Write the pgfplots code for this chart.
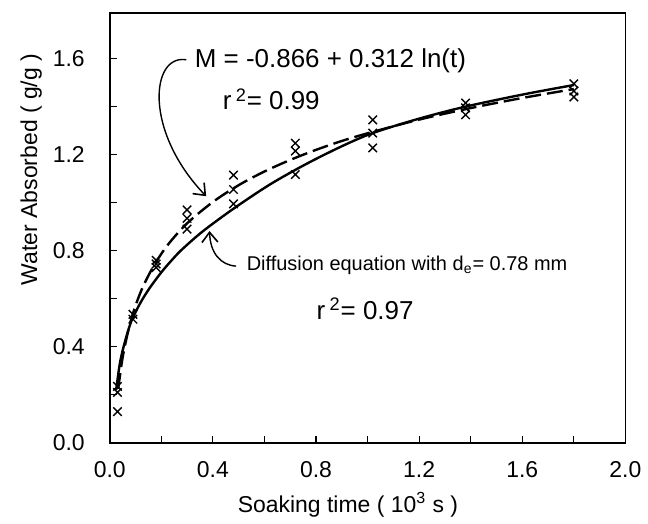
\documentclass[border=0pt]{standalone}
\usepackage{fontspec}
\setmainfont{Liberation Sans}
\usepackage{pgfplots}
\pgfplotsset{compat=1.18}
\usetikzlibrary{arrows.meta}
\begin{document}
\begin{tikzpicture}
\begin{axis}[
  scale only axis, width=258.5pt, height=215.5pt,
  xmin=0, xmax=2, ymin=0, ymax=1.79,
  axis line style={line width=0.8pt},
  xtick={0,0.4,0.8,1.2,1.6,2.0}, ytick={0,0.4,0.8,1.2,1.6},
  minor xtick={0.2,0.6,1.0,1.4,1.8}, minor ytick={0.2,0.6,1.0,1.4},
  tick align=inside, xtick pos=bottom, ytick pos=left,
  major tick length=3.5pt, minor tick length=3.5pt,
  tick style={line width=0.6pt, black},
  /pgf/number format/assume math mode=true,
  /pgf/number format/.cd, fixed, fixed zerofill, precision=1, /pgfplots/.cd,
  ticklabel style={font=\fontsize{11.5}{13}\selectfont},
  xticklabel style={yshift=-6pt},
  yticklabel style={xshift=-9pt},
  xlabel={Soaking time ( 10\textsuperscript{3} s )},
  ylabel={Water Absorbed ( g/g )},
  label style={font=\fontsize{11.5}{13}\selectfont},
  xlabel style={at={(axis description cs:0.462,-0.162)}, anchor=base},
  ylabel style={at={(axis description cs:-0.141,0.636)}, anchor=base},
]
\addplot[only marks, mark=x, mark size=3pt, mark options={line width=0.7pt}] coordinates {
(0.03,0.13)(0.03,0.21)(0.03,0.235)
(0.09,0.515)(0.09,0.535)
(0.18,0.73)(0.18,0.745)(0.18,0.76)
(0.30,0.89)(0.30,0.935)(0.30,0.97)
(0.48,0.995)(0.48,1.055)(0.48,1.115)
(0.72,1.117)(0.72,1.215)(0.72,1.248)
(1.02,1.228)(1.02,1.29)(1.02,1.345)
(1.38,1.366)(1.38,1.395)(1.38,1.415)
(1.80,1.44)(1.80,1.465)(1.80,1.495)
};
\addplot[line width=1.2pt, smooth, black] coordinates {
(0.025,0.22)(0.04,0.335)(0.06,0.425)(0.085,0.51)(0.12,0.585)(0.155,0.645)(0.2,0.71)(0.24,0.76)(0.28,0.805)(0.36,0.88)(0.48,0.975)(0.62,1.075)(0.76,1.16)(0.9,1.235)(1.02,1.29)(1.2,1.35)(1.38,1.40)(1.6,1.45)(1.8,1.49)
};
\addplot[line width=1.2pt, smooth, black, dash pattern=on 8pt off 3pt] coordinates {
(0.033,0.225)(0.05,0.355)(0.075,0.481)(0.1,0.571)(0.13,0.653)(0.175,0.745)(0.227,0.827)(0.3,0.914)(0.4,1.003)(0.5,1.073)(0.6,1.130)(0.7,1.178)(0.8,1.220)(0.9,1.257)(1.0,1.289)(1.2,1.346)(1.4,1.394)(1.6,1.436)(1.8,1.473)
};
\node[font=\fontsize{13}{15}\selectfont, anchor=west, inner sep=0pt] at (axis cs:0.329,1.59) {M = -0.866 + 0.312 ln(t)};
\node[font=\fontsize{13}{15}\selectfont, anchor=base west, inner sep=0pt] at (axis cs:0.437,1.387) {r\,\textsuperscript{2}= 0.99};
\node[font=\fontsize{13}{15}\selectfont, anchor=base west, inner sep=0pt] at (axis cs:0.801,0.515) {r\,\textsuperscript{2}= 0.97};
\node[font=\fontsize{10}{12}\selectfont, anchor=west, inner sep=0pt] at (axis cs:0.53,0.739) {Diffusion equation with d\textsubscript{e}= 0.78 mm};
\draw[line width=0.7pt, -{Straight Barb[length=5pt,width=8pt,line width=0.8pt]}] (axis cs:0.297,1.595) .. controls (axis cs:0.16,1.62) and (axis cs:0.13,1.30) .. (axis cs:0.374,1.027);
\draw[line width=0.7pt, -{Straight Barb[length=5pt,width=8pt,line width=0.8pt]}] (axis cs:0.49,0.736) .. controls (axis cs:0.43,0.74) and (axis cs:0.39,0.79) .. (axis cs:0.387,0.882);
\end{axis}
\path (current axis.south west) ++(-55pt,-39pt) rectangle ++(324pt,261pt);
\end{tikzpicture}
\end{document}
